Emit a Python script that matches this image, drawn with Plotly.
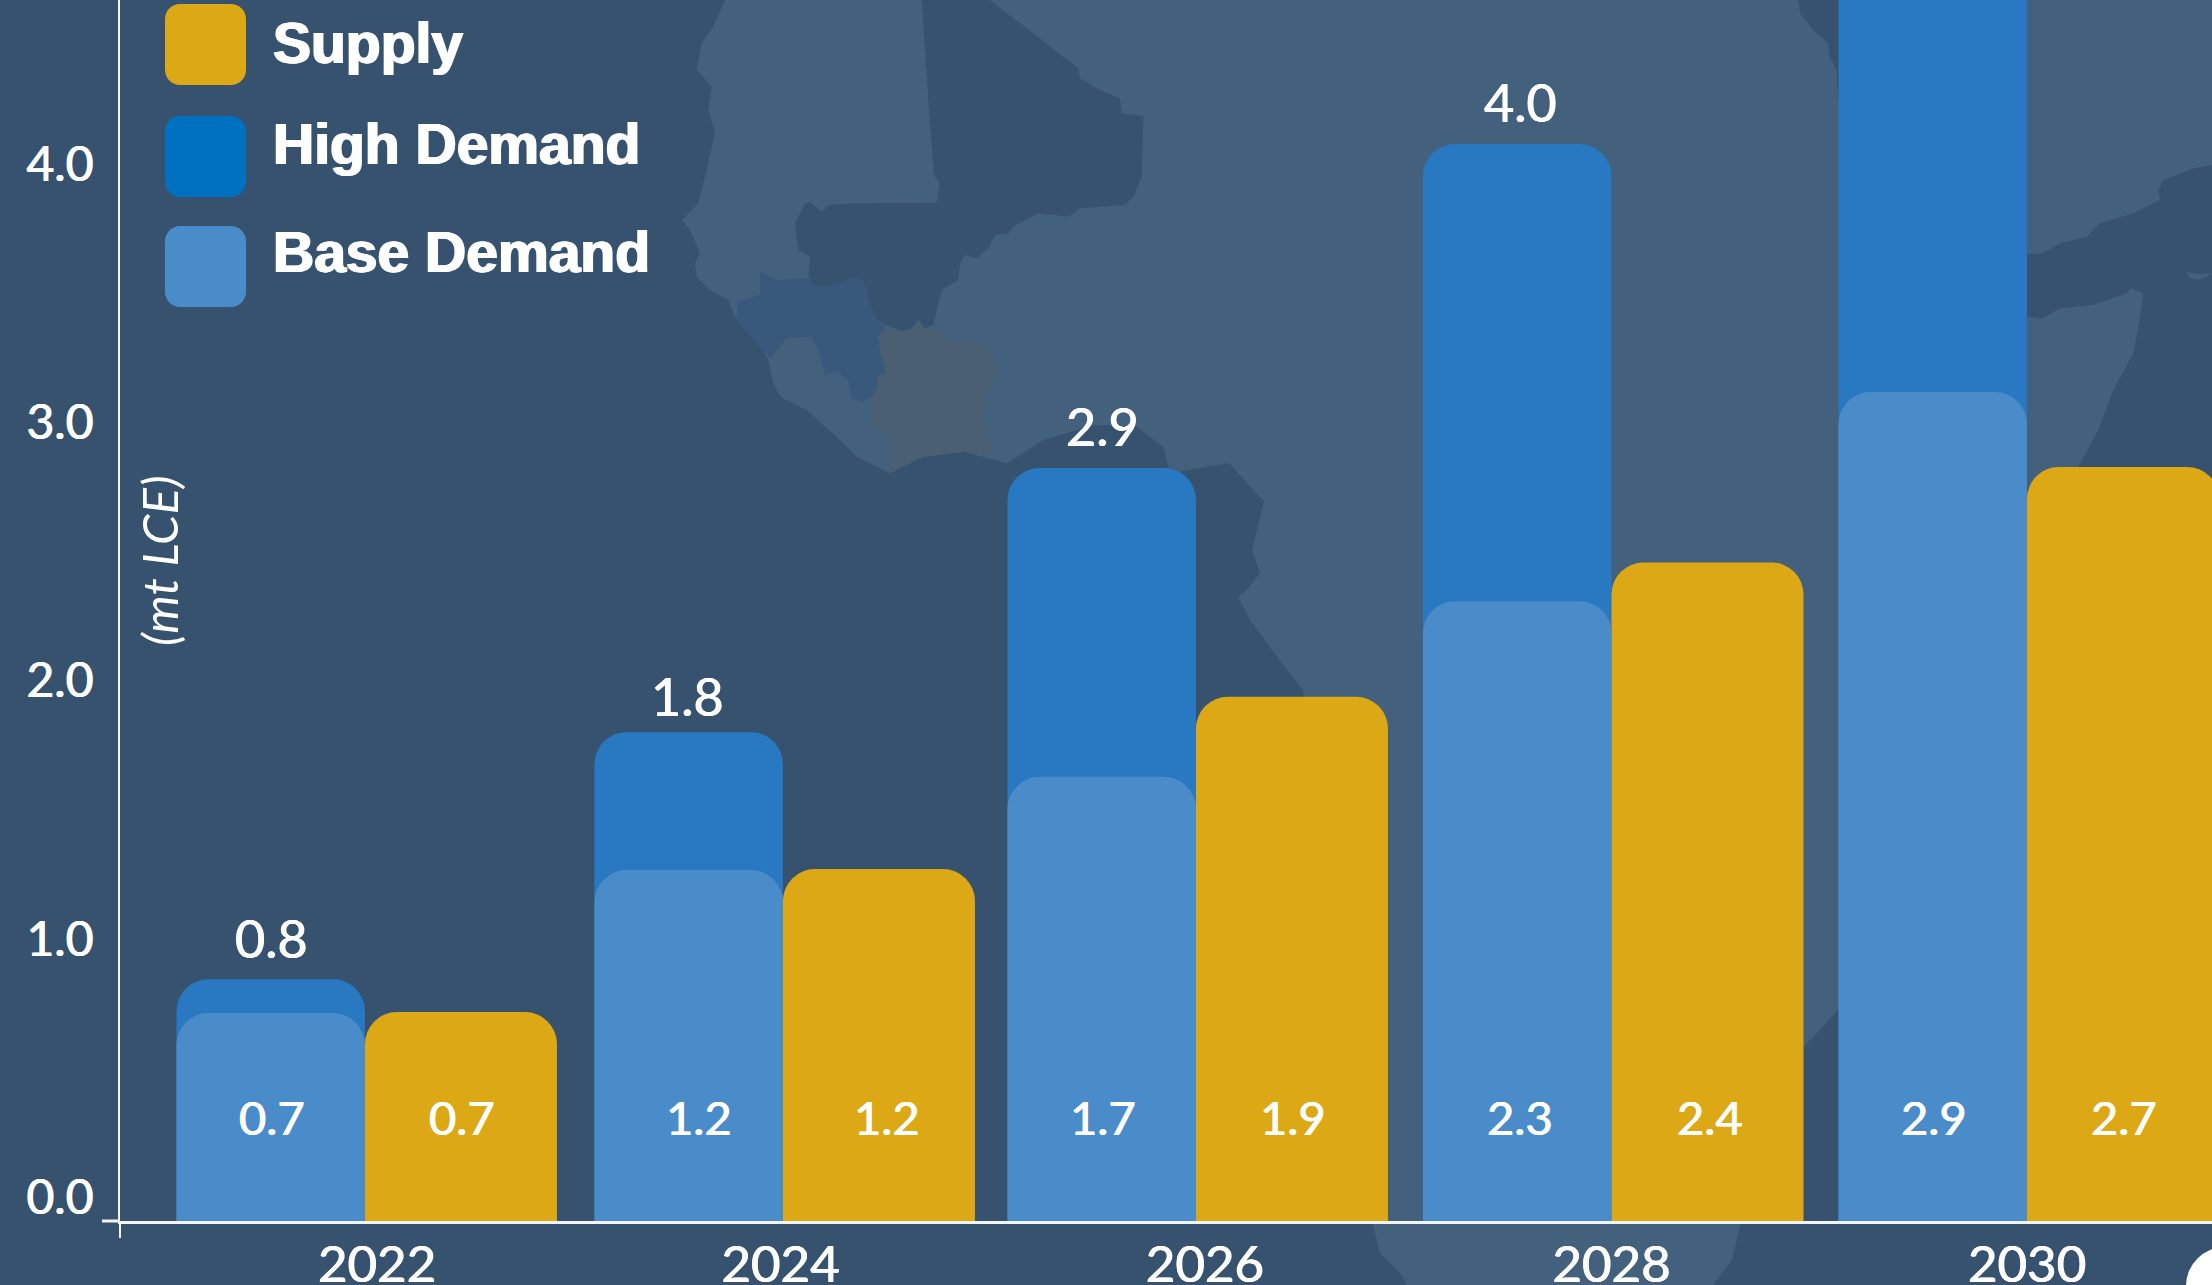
import plotly.graph_objects as go

# ---------- data ----------
years = [2022, 2024, 2026, 2028, 2030]
year_labels = ["2022", "2024", "2026", "2028", "2030"]
base_demand = [0.805, 1.359, 1.72, 2.40, 3.21]
high_demand = [0.936, 1.893, 2.916, 4.17, 5.3]
supply = [0.809, 1.363, 2.03, 2.55, 2.92]
base_labels = ["0.7", "1.2", "1.7", "2.3", "2.9"]
high_labels = ["0.8", "1.8", "2.9", "4.0", None]
supply_labels = ["0.7", "1.2", "1.9", "2.4", "2.7"]
y_ticks = [0, 1, 2, 3, 4]
y_tick_labels = ["0.0", "1.0", "2.0", "3.0", "4.0"]
legend_names = ["Supply", "High Demand", "Base Demand"]

# ---------- style ----------
W, H = 2212, 1285
ML, MB = 120, 64
PW, PH = W - ML, H - MB
BG, LAND = "#36526F", "#43607C"
GUINEA, IVORY = "#38587C", "#4A5F71"
C_SUPPLY, C_HIGH, C_BASE = "#DDA815", "#2878C2", "#4A8CC9"
LEG_COLORS = ["#DDA815", "#0070C0", "#4A8CC9"]
FONT = "Lato"
SOFT_BOLD = "0.6px 0 0 white, -0.4px 0 0 white"
X0 = 2020.821
X1 = 2022 + (W - 365) / 207.75
Y1 = PH / 258.25
W_BASE, W_SUP = 188.5 / 207.75, 192 / 207.75
NUDGE = [0, 0.012, 0, 0, 0]
TICK_NUDGE = [0.058, 0.0, 0.043, 0.0, 0.0]
BASE_SHIFT = [1, 10, 1, 3, 1]
SUP_SHIFT = [1, 8, 1, 3, 1]
HIGH_XSHIFT = [1, -1, 1, 3, 0]
HIGH_YSHIFT = [41, 36, 42, 42, 42]


def px(x, y):
    return (x - ML) / PW, (H - MB - y) / PH


def poly(pts, color):
    d = ""
    for i, (x, y) in enumerate(pts):
        a, b = px(x, y)
        d += ("M" if i == 0 else "L") + f"{a:.5f},{b:.5f} "
    return dict(type="path", path=d + "Z", xref="paper", yref="paper",
                fillcolor=color, line=dict(width=0), layer="below")


def zoomed(pts, ox, oy, s=3.0):
    return [(ox + X / s, oy + Y / s) for X, Y in pts]


def rounded(x0, y0, x1, y1, r, color):
    k = r * 0.45
    seq = [("M", (x0 + r, y0)), ("L", (x1 - r, y0)),
           ("C", (x1 - k, y0), (x1, y0 + k), (x1, y0 + r)), ("L", (x1, y1 - r)),
           ("C", (x1, y1 - k), (x1 - k, y1), (x1 - r, y1)), ("L", (x0 + r, y1)),
           ("C", (x0 + k, y1), (x0, y1 - k), (x0, y1 - r)), ("L", (x0, y0 + r)),
           ("C", (x0, y0 + k), (x0 + k, y0), (x0 + r, y0))]
    d = ""
    for item in seq:
        d += item[0] + " ".join("%.5f,%.5f" % px(*p) for p in item[1:]) + " "
    return dict(type="path", path=d + "Z", xref="paper", yref="paper",
                fillcolor=color, line=dict(width=0), layer="above")


# background map outlines (decorative, in page pixels)
coast_west = zoomed([(135, 0), (100, 80), (65, 130), (50, 210), (95, 260), (85, 330), (105, 400), (75, 530),
                     (55, 610), (5, 660), (30, 690), (60, 760), (45, 790), (50, 830), (90, 870), (145, 900),
                     (160, 940), (170, 960), (240, 1040), (265, 1080), (280, 1150), (300, 1190), (380, 1230),
                     (470, 1310), (530, 1370), (630, 1420), (730, 1370), (850, 1355), (980, 1390), (1090, 1320),
                     (1240, 1275), (1370, 1280), (1450, 1340), (1470, 1420)], 680, 0)
coast_gulf = [(1229, 463), (1246, 482), (1264, 501), (1252, 550), (1260, 573), (1247, 590), (1238, 597), (1250, 620),
              (1267, 643), (1287, 670), (1303, 690), (1372, 1222), (1380, 1253), (1400, 1273), (1407, 1285),
              (1713, 1285), (1732, 1260), (1741, 1222), (1803, 1047), (1817, 1033), (1838, 1010)]
coast_horn = zoomed([(1135, 1400), (1195, 1290), (1240, 1170), (1300, 1060), (1315, 980), (1330, 880), (1295, 865),
                     (1280, 880), (1180, 915), (1080, 925), (1030, 955), (980, 950), (980, 762), (1030, 760),
                     (1080, 730), (1160, 710), (1200, 670), (1300, 640), (1380, 600), (1375, 570), (1390, 540),
                     (1480, 505), (1536, 495)], 1700, 0)
land = coast_west + coast_gulf + coast_horn + [(2212, 0)]
red_sea = zoomed([(295, 0), (300, 40), (340, 90), (385, 130), (388, 170), (410, 210), (415, 300), (600, 300), (600, 0)],
                 1700, 0)
socotra = zoomed([(1460, 815), (1490, 822), (1530, 820), (1520, 832), (1490, 840), (1470, 835)], 1700, 0)
mali = zoomed([(725, 0), (930, 0), (1195, 205), (1200, 235), (1250, 265), (1320, 295), (1325, 340), (1390, 348),
               (1385, 530), (1360, 590), (1335, 615), (1200, 625), (1165, 650), (1075, 640), (1000, 680), (985, 700),
               (945, 705), (925, 745), (890, 775), (855, 765), (840, 790), (835, 840), (785, 870), (775, 910),
               (760, 975), (735, 985), (715, 960), (695, 985), (665, 995), (620, 975), (590, 960), (570, 915),
               (550, 840), (525, 830), (480, 850), (440, 860), (400, 855), (385, 830), (390, 770), (355, 750),
               (345, 670), (375, 610), (390, 605), (425, 635), (445, 615), (520, 610), (770, 608), (780, 550),
               (762, 525), (745, 300)], 680, 0)
guinea = zoomed([(240, 815), (290, 840), (385, 835), (400, 855), (440, 860), (480, 850), (525, 830), (550, 840),
                 (570, 915), (590, 960), (620, 985), (595, 1010), (600, 1060), (620, 1120), (590, 1130), (595, 1160),
                 (580, 1185), (545, 1205), (515, 1195), (505, 1140), (470, 1115), (435, 1125), (420, 1060),
                 (395, 1010), (320, 1015), (270, 1075), (240, 1040), (170, 960), (175, 905), (240, 885)], 680, 0)
ivory = zoomed([(620, 985), (665, 995), (695, 985), (715, 960), (735, 985), (775, 990), (810, 1030), (880, 1020),
                (930, 1050), (950, 1115), (925, 1170), (905, 1260), (935, 1330), (930, 1360), (850, 1355),
                (730, 1370), (630, 1420), (635, 1310), (570, 1270), (580, 1185), (595, 1160), (590, 1130),
                (620, 1120), (600, 1060), (595, 1010)], 680, 0)

shapes = [poly(land, LAND), poly(red_sea, BG), poly(socotra, LAND), poly(mali, BG),
          poly(guinea, GUINEA), poly(ivory, IVORY)]

# axis extensions and the corner blob
a, b = px(102, 1221)
shapes.append(dict(type="line", xref="paper", yref="paper", x0=a, x1=0, y0=0, y1=0,
                   line=dict(color="#F2F4F6", width=3), layer="above"))
a, b = px(120, 1238)
shapes.append(dict(type="line", xref="paper", yref="paper", x0=0, x1=0, y0=b, y1=0,
                   line=dict(color="#F2F4F6", width=2), layer="above"))
cx0, cy0 = px(2186, 1247)
cx1, cy1 = px(2264, 1325)
shapes.append(dict(type="circle", xref="paper", yref="paper", x0=cx0, x1=cx1, y0=cy1, y1=cy0,
                   fillcolor="white", line=dict(width=0), layer="above"))

# legend swatches
swatch_tops = [4, 116, 226]
for top, col in zip(swatch_tops, LEG_COLORS):
    shapes.append(rounded(165, top, 246, top + 81, 15, col))

fig = go.Figure()
fig.add_bar(x=years, y=high_demand, name="High Demand", marker=dict(color=C_HIGH, line=dict(width=0)),
            width=W_BASE, offset=[n - W_BASE for n in NUDGE], yaxis="y")
fig.add_bar(x=years, y=supply, name="Supply", marker=dict(color=C_SUPPLY, line=dict(width=0)),
            width=W_SUP, offset=NUDGE, yaxis="y")
# the base series sits on a hidden twin axis so that its own tops keep their rounded corners
fig.add_bar(x=years, y=base_demand, name="Base Demand", marker=dict(color=C_BASE, line=dict(width=0)),
            width=W_BASE, offset=[n - W_BASE for n in NUDGE], yaxis="y2")

ann = []
for i, yr in enumerate(years):
    xb = yr + NUDGE[i] - W_BASE / 2
    xs = yr + NUDGE[i] + W_SUP / 2
    ann.append(dict(x=xb, y=0.403, xshift=BASE_SHIFT[i], text=base_labels[i], xref="x", yref="y", showarrow=False,
                    font=dict(family=FONT, size=47, color="white", shadow=SOFT_BOLD)))
    ann.append(dict(x=xs, y=0.403, xshift=SUP_SHIFT[i], text=supply_labels[i], xref="x", yref="y", showarrow=False,
                    font=dict(family=FONT, size=47, color="white", shadow=SOFT_BOLD)))
    if high_labels[i]:
        ann.append(dict(x=xb, y=high_demand[i], xshift=HIGH_XSHIFT[i], yshift=HIGH_YSHIFT[i], text=high_labels[i],
                        xref="x", yref="y", showarrow=False,
                        font=dict(family=FONT, size=52, color="white", shadow=SOFT_BOLD)))

for name, cy in zip(legend_names, [43, 144, 252]):
    a, b = px(271, cy)
    ann.append(dict(x=a, y=b, xref="paper", yref="paper", text=f"<b>{name}</b>", showarrow=False, xanchor="left",
                    yanchor="middle", font=dict(family="Liberation Sans", size=57, color="white",
                                                shadow="1px 0 0 white, -1px 0 0 white")))

a, b = px(159, 561)
ann.append(dict(x=a, y=b, xref="paper", yref="paper", text="<i>(mt LCE)</i>", showarrow=False, textangle=-90,
                xanchor="center", yanchor="middle", font=dict(family=FONT, size=49, color="white")))

fig.update_layout(
    width=W, height=H, autosize=False, barmode="overlay", barcornerradius=32, showlegend=False,
    paper_bgcolor=BG, plot_bgcolor="rgba(0,0,0,0)", margin=dict(l=ML, r=0, t=0, b=MB, pad=0, autoexpand=False),
    shapes=shapes, annotations=ann,
    xaxis=dict(range=[X0, X1], tickmode="array", tickvals=[y + n for y, n in zip(years, TICK_NUDGE)],
               ticktext=year_labels, showgrid=False, zeroline=False, ticks="", showline=True, linecolor="#F2F4F6",
               linewidth=3, automargin=False, ticklabelstandoff=-3,
               tickfont=dict(family=FONT, size=51, color="white", shadow=SOFT_BOLD)),
    yaxis=dict(range=[0, Y1], tickmode="array", tickvals=y_ticks, ticktext=y_tick_labels, showgrid=False,
               zeroline=False, ticks="", showline=True, linecolor="#F2F4F6", linewidth=2, ticklabelshift=-24,
               automargin=False, ticklabelstandoff=15,
               tickfont=dict(family=FONT, size=48, color="white", shadow=SOFT_BOLD)),
    yaxis2=dict(range=[0, Y1], overlaying="y", visible=False, automargin=False),
)
# page body without its default margin, so the figure fills the window exactly
fig.write_html("out.html", config=dict(displayModeBar=False),
               post_script="document.body.style.margin='0';document.body.style.overflow='hidden';"
                           "document.documentElement.style.background='%s';" % BG)
